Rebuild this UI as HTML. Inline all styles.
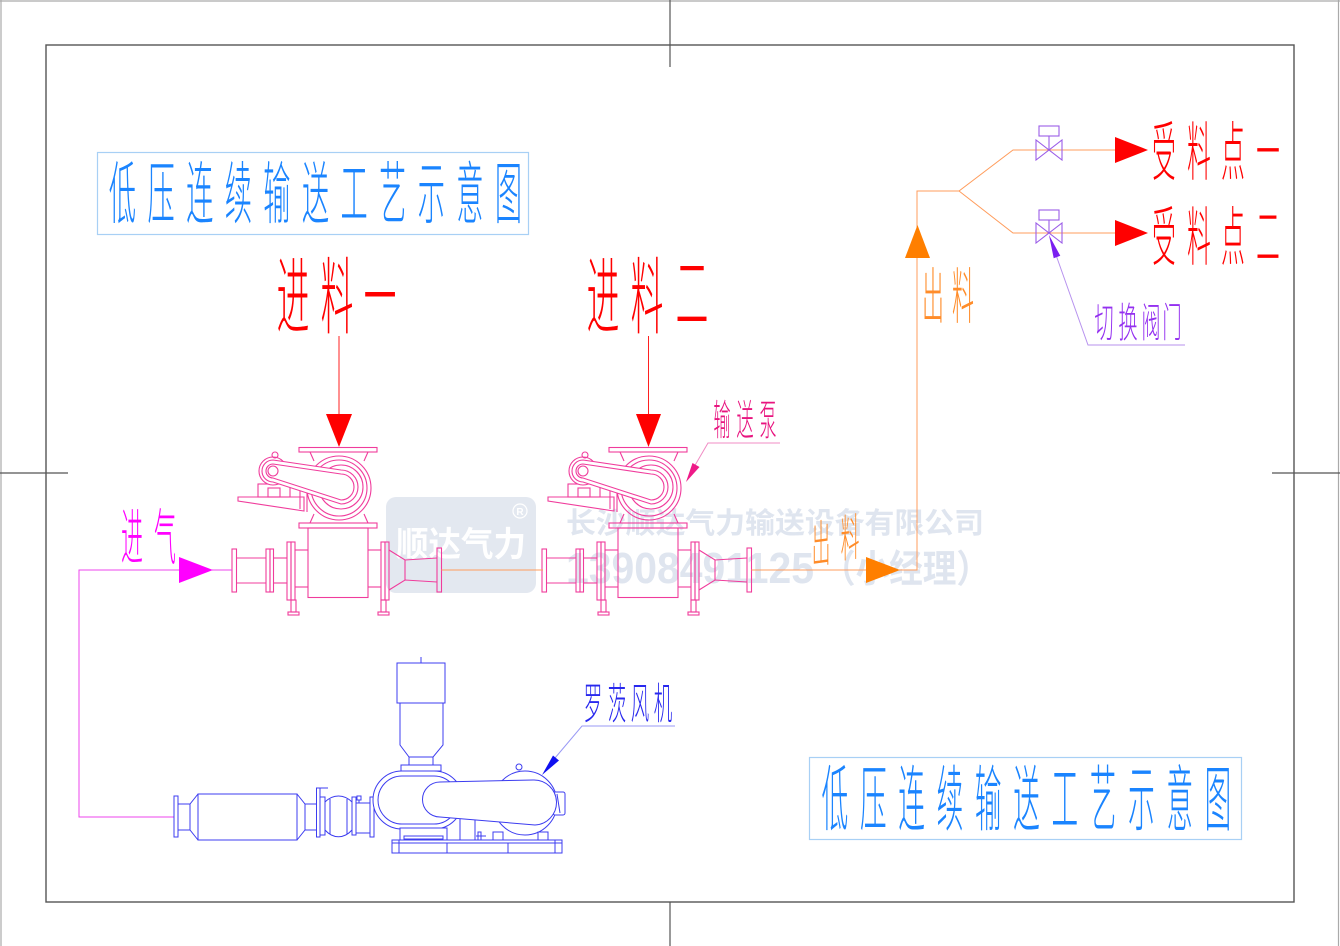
<!DOCTYPE html>
<html><head><meta charset="utf-8"><style>
html,body{margin:0;padding:0;background:#fff;}
svg{display:block;}
.c{font-family:"Liberation Sans","Noto Sans CJK SC","WenQuanYi Zen Hei",sans-serif;font-weight:300;}
</style></head><body>
<svg width="1340" height="946" viewBox="0 0 1340 946" xmlns="http://www.w3.org/2000/svg">
<rect width="1340" height="946" fill="#fff"/>
<!-- frames -->
<g fill="none" stroke="#aaa" stroke-width="1.2">
<line x1="1" y1="0" x2="1" y2="946"/><line x1="0" y1="1" x2="1340" y2="1"/><line x1="1338.5" y1="0" x2="1338.5" y2="946"/>
</g>
<rect x="46" y="45" width="1248" height="857" fill="none" stroke="#555" stroke-width="1.4"/>
<g stroke="#555" stroke-width="1.2">
<line x1="670" y1="0" x2="670" y2="67"/><line x1="670" y1="902" x2="670" y2="946"/>
<line x1="0" y1="473" x2="68" y2="473"/><line x1="1272" y1="473" x2="1340" y2="473"/>
</g>

<!-- watermark -->
<rect x="386" y="497" width="150" height="96" rx="10" fill="#e3e8f0"/>
<text x="396" y="556" font-size="34" font-weight="bold" fill="#fff" textLength="130" lengthAdjust="spacingAndGlyphs" font-family="Liberation Sans, Noto Sans CJK SC, sans-serif">顺达气力</text>
<circle cx="520" cy="511" r="7" fill="none" stroke="#fff" stroke-width="1.2"/>
<text x="520" y="515" font-size="10" fill="#fff" text-anchor="middle" font-family="Liberation Sans, sans-serif" font-weight="bold">R</text>
<text x="566" y="533" font-size="29" font-weight="bold" fill="#dfe5ef" textLength="418" lengthAdjust="spacingAndGlyphs" font-family="Liberation Sans, Noto Sans CJK SC, sans-serif">长沙顺达气力输送设备有限公司</text>
<text x="566" y="583" font-size="44" font-weight="bold" fill="#dfe5ef" textLength="248" lengthAdjust="spacingAndGlyphs" font-family="Liberation Sans, sans-serif">13908491125</text>
<text x="822" y="582" font-size="38" font-weight="bold" fill="#dfe5ef" textLength="168" lengthAdjust="spacingAndGlyphs" font-family="Liberation Sans, Noto Sans CJK SC, sans-serif">（小经理）</text>

<!-- title 1 -->
<rect x="97.5" y="152.5" width="431" height="82" fill="none" stroke="#a8d0f5" stroke-width="1.2"/>
<g class="c" fill="#1a84ff" font-size="68" text-anchor="middle">
<text transform="translate(122.5,218) scale(0.4,1)">低</text>
<text transform="translate(161.1,218) scale(0.4,1)">压</text>
<text transform="translate(199.7,218) scale(0.4,1)">连</text>
<text transform="translate(238.3,218) scale(0.4,1)">续</text>
<text transform="translate(276.9,218) scale(0.4,1)">输</text>
<text transform="translate(315.5,218) scale(0.4,1)">送</text>
<text transform="translate(354.1,218) scale(0.4,1)">工</text>
<text transform="translate(392.7,218) scale(0.4,1)">艺</text>
<text transform="translate(431.3,218) scale(0.4,1)">示</text>
<text transform="translate(469.9,218) scale(0.4,1)">意</text>
<text transform="translate(508.5,218) scale(0.4,1)">图</text>
</g>
<!-- title 2 -->
<rect x="809.5" y="757.5" width="432" height="82" fill="none" stroke="#a8d0f5" stroke-width="1.2"/>
<g class="c" fill="#1a84ff" font-size="72" text-anchor="middle">
<text transform="translate(835,825) scale(0.37,1)">低</text>
<text transform="translate(873.3,825) scale(0.37,1)">压</text>
<text transform="translate(911.6,825) scale(0.37,1)">连</text>
<text transform="translate(949.9,825) scale(0.37,1)">续</text>
<text transform="translate(988.2,825) scale(0.37,1)">输</text>
<text transform="translate(1026.5,825) scale(0.37,1)">送</text>
<text transform="translate(1064.8,825) scale(0.37,1)">工</text>
<text transform="translate(1103.1,825) scale(0.37,1)">艺</text>
<text transform="translate(1141.4,825) scale(0.37,1)">示</text>
<text transform="translate(1179.7,825) scale(0.37,1)">意</text>
<text transform="translate(1218,825) scale(0.37,1)">图</text>
</g>

<!-- feed labels -->
<g class="c" fill="#ff0000" font-size="84" text-anchor="middle">
<text transform="translate(293,327) scale(0.39,1)">进</text>
<text transform="translate(337,327) scale(0.39,1)">料</text>
<text transform="translate(380,327) scale(0.39,1)">一</text>
<text transform="translate(603,327) scale(0.39,1)">进</text>
<text transform="translate(647,327) scale(0.39,1)">料</text>
<text transform="translate(692,324) scale(0.39,1)">二</text>
</g>
<g stroke="#ff2020" stroke-width="1"><line x1="339" y1="336" x2="339" y2="414"/><line x1="648.5" y1="336" x2="648.5" y2="414"/></g>
<polygon points="326,414 352,414 339,447" fill="#ff0000"/>
<polygon points="636,414 661,414 648.5,447" fill="#ff0000"/>

<!-- pumps -->
<g id="pump" fill="none" stroke="#f03c9c" stroke-width="1.1">
 <rect x="299" y="447.5" width="78" height="4.5"/>
 <line x1="310" y1="452" x2="314" y2="461"/><line x1="368" y1="452" x2="364" y2="461"/>
 <line x1="310" y1="523" x2="314" y2="514"/><line x1="368" y1="523" x2="364" y2="514"/>
 <rect x="299" y="523" width="78" height="5"/>
 <circle cx="339" cy="488" r="32"/>
 <circle cx="339" cy="488" r="28"/>
 <circle cx="341" cy="487" r="22"/>
 <rect x="258" y="484" width="32" height="13"/>
 <rect x="268" y="488" width="12" height="9"/>
 <path d="M238,497 L304,497 L304,511 L238,501 Z"/>
 <line x1="300" y1="488" x2="300" y2="509"/>
 <line x1="307" y1="490" x2="307" y2="512"/>
 <circle cx="273" cy="471" r="14" fill="#fff"/>
 <circle cx="275" cy="455" r="3"/>
 <path d="M273,460 L341,470 A17,17 0 0 1 341,504 L273,482 A11,11 0 0 1 273,460 Z" fill="#fff"/>
 <path d="M273,464 L341,474 A13,13 0 0 1 341,500 L273,478 A7,7 0 0 1 273,464 Z"/>
 <circle cx="273" cy="471" r="5"/>
 <rect x="308" y="528" width="60" height="69.5"/>
 <rect x="232" y="549" width="4.5" height="43"/>
 <line x1="236.5" y1="558" x2="266" y2="558"/><line x1="236.5" y1="583" x2="266" y2="583"/>
 <rect x="266" y="549" width="4" height="43"/><rect x="270" y="549" width="3.5" height="43"/>
 <line x1="273.5" y1="558" x2="287" y2="558"/><line x1="273.5" y1="583" x2="287" y2="583"/>
 <rect x="287" y="542" width="4" height="58"/><rect x="291" y="542" width="4" height="58"/>
 <line x1="295" y1="550" x2="308" y2="550"/><line x1="295" y1="587" x2="308" y2="587"/>
 <line x1="368" y1="550" x2="381" y2="550"/><line x1="368" y1="587" x2="381" y2="587"/>
 <rect x="381" y="542" width="4" height="58"/><rect x="385" y="542" width="4" height="58"/>
 <path d="M389,550 L405,560 L437,558 M389,590 L405,580 L437,582"/>
 <line x1="405" y1="560" x2="405" y2="580"/>
 <rect x="437" y="548" width="4.5" height="44"/>
 <rect x="291" y="600" width="5" height="12"/><rect x="288" y="612" width="11" height="3"/>
 <rect x="381" y="600" width="5" height="12"/><rect x="378" y="612" width="11" height="3"/>
</g>
<use href="#pump" transform="translate(310,0)"/>

<!-- pump label -->
<g class="c" fill="#e8147f" font-size="42" text-anchor="middle">
<text transform="translate(722,435) scale(0.41,1)">输</text>
<text transform="translate(745,435) scale(0.41,1)">送</text>
<text transform="translate(768,435) scale(0.41,1)">泵</text>
</g>
<polyline points="780,443 708,443 694,467" fill="none" stroke="#f08cc4" stroke-width="1"/>
<polygon points="686,482 699.5,467 692.5,463" fill="#ee1a88"/>

<!-- air inlet -->
<g class="c" fill="#ff00ff" font-size="61" text-anchor="middle">
<text transform="translate(132,559) scale(0.36,1)">进</text>
<text transform="translate(165,559) scale(0.36,1)">气</text>
</g>
<polyline points="174,817 79,817 79,570 180,570" fill="none" stroke="#ee44ee" stroke-width="1"/>
<line x1="212" y1="570" x2="232" y2="570" stroke="#ee44ee" stroke-width="1"/>
<polygon points="179,557 179,583 213,570" fill="#ff00ff"/>

<!-- orange conveying line -->
<g fill="none" stroke="#ff9c5c" stroke-width="1">
<line x1="441.5" y1="570" x2="543" y2="570"/>
<line x1="751.5" y1="570" x2="867" y2="570"/>
<polyline points="899,570 917,570 917,191 959,191 1013,150 1115,150"/>
<polyline points="959,191 1013,233 1115,233"/>
</g>
<polygon points="866,557 866,583 900,570" fill="#ff7f00"/>
<polygon points="905,258 930,258 917.5,225" fill="#ff7f00"/>
<g class="c" fill="#ff8c29" font-size="50" text-anchor="middle">
<text transform="translate(821,562) rotate(-8) skewX(-8) scale(0.38,1)">出</text>
<text transform="translate(850,556) rotate(-8) skewX(-8) scale(0.38,1)">料</text>
</g>
<g class="c" fill="#ff8c29" font-size="61" text-anchor="middle">
<text transform="translate(933,318) scale(0.36,1)">出</text>
<text transform="translate(963,318) scale(0.36,1)">料</text>
</g>

<!-- valves -->
<g fill="none" stroke="#9b5de8" stroke-width="1.1">
<polygon points="1036,140 1036,160 1062,140 1062,160"/>
<rect x="1039" y="126" width="20" height="10"/><line x1="1049" y1="136" x2="1049" y2="150"/>
<polygon points="1036,223 1036,243 1062,223 1062,243"/>
<rect x="1039" y="210" width="20" height="10"/><line x1="1049" y1="220" x2="1049" y2="233"/>
</g>
<polygon points="1115,137 1115,163 1148,150" fill="#ff0000"/>
<polygon points="1115,220 1115,246 1148,233" fill="#ff0000"/>
<g class="c" fill="#ff0000" font-size="64" text-anchor="middle">
<text transform="translate(1164,175) scale(0.37,1)">受</text>
<text transform="translate(1199,175) scale(0.37,1)">料</text>
<text transform="translate(1233,175) scale(0.37,1)">点</text>
<text transform="translate(1268,175) scale(0.37,1)">一</text>
<text transform="translate(1164,260) scale(0.37,1)">受</text>
<text transform="translate(1199,260) scale(0.37,1)">料</text>
<text transform="translate(1233,260) scale(0.37,1)">点</text>
<text transform="translate(1268,260) scale(0.37,1)">二</text>
</g>
<polyline points="1185,345 1088,345 1056,255" fill="none" stroke="#b792ee" stroke-width="1"/>
<polygon points="1049,235 1060.3,255.8 1053.7,258.2" fill="#7a1ff0"/>
<g class="c" fill="#9430f0" font-size="41" text-anchor="middle">
<text transform="translate(1104,337) scale(0.47,1)">切</text>
<text transform="translate(1128,337) scale(0.47,1)">换</text>
<text transform="translate(1151,337) scale(0.47,1)">阀</text>
<text transform="translate(1172,337) scale(0.47,1)">门</text>
</g>

<!-- roots blower -->
<g fill="none" stroke="#3c3cf0" stroke-width="1">
 <rect x="174" y="796" width="4" height="41"/>
 <path d="M178,804 L190,804 L198,794 M178,830 L190,830 L198,840"/>
 <rect x="198" y="794" width="99" height="46"/>
 <path d="M297,794 L305,804 L317,804 M297,840 L305,830 L317,830"/>
 <line x1="190" y1="804" x2="190" y2="830"/><line x1="305" y1="804" x2="305" y2="830"/>
 <rect x="316.5" y="788" width="3.5" height="49"/>
 <path d="M320,788 L328,788"/>
 <rect x="320" y="797" width="5" height="38"/>
 <path d="M325,802 C333,794 344,794 352,802 M325,830 C333,839 344,839 352,830"/>
 <line x1="330" y1="799" x2="330" y2="834"/><line x1="347" y1="799" x2="347" y2="834"/>
 <rect x="352" y="797" width="4" height="38"/>
 <line x1="356" y1="803" x2="370" y2="803"/><line x1="356" y1="833" x2="370" y2="833"/>
 <rect x="357" y="796" width="4" height="4"/><line x1="359" y1="800" x2="359" y2="803"/>
 <rect x="370" y="797" width="4" height="40"/>
 <!-- top silencer -->
 <line x1="421" y1="657" x2="421" y2="663"/>
 <rect x="397" y="663" width="48" height="40"/>
 <path d="M400,703 L400,745 L409,757 L409,765 M443,703 L443,745 L433,757 L433,765 M409,757 L433,757"/>
 <rect x="401" y="765" width="40" height="6"/>
 <!-- housing -->
 <rect x="373" y="771" width="90" height="58" rx="29" fill="#fff"/>
 <rect x="378" y="776" width="80" height="48" rx="24"/>
 <rect x="400" y="828" width="47" height="12" fill="#fff"/>
 <rect x="404" y="836" width="39" height="3"/>
 <!-- motor -->
 <circle cx="519" cy="767" r="3"/>
 <circle cx="525" cy="803" r="32" fill="#fff"/>
 <rect x="553" y="792" width="12" height="23" rx="2" fill="#fff"/>
 <line x1="557" y1="794" x2="560" y2="813"/>
 <rect x="493" y="832" width="10" height="8"/><rect x="538" y="832" width="10" height="8"/>
 <rect x="460" y="815" width="15" height="25"/>
 <line x1="476" y1="836" x2="486" y2="836"/><rect x="478" y="832" width="3" height="8"/>
 <!-- belt guard -->
 <path d="M440,782 L533,780 A22.5,22.5 0 0 1 535,825 L440,817 A17.5,17.5 0 0 1 440,782 Z" fill="#fff"/>
 <!-- base -->
 <rect x="392" y="840" width="170" height="13"/>
 <line x1="392" y1="843" x2="562" y2="843"/>
 <line x1="399" y1="840" x2="399" y2="853"/><line x1="447" y1="843" x2="447" y2="853"/>
 <line x1="508" y1="843" x2="508" y2="853"/><line x1="555" y1="840" x2="555" y2="853"/>
</g>
<polyline points="675,726 582,726 555,758" fill="none" stroke="#9a9af5" stroke-width="1"/>
<polygon points="542,775 559,760.5 553,755.5" fill="#1010f0"/>
<g class="c" fill="#2828ee" font-size="43" text-anchor="middle">
<text transform="translate(593,719) scale(0.43,1)">罗</text>
<text transform="translate(617,719) scale(0.43,1)">茨</text>
<text transform="translate(640,719) scale(0.43,1)">风</text>
<text transform="translate(663,719) scale(0.43,1)">机</text>
</g>
</svg>
</body></html>
